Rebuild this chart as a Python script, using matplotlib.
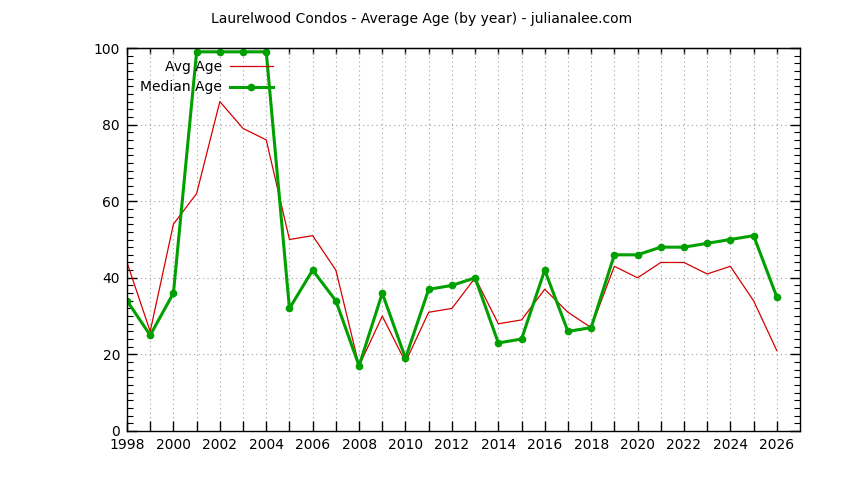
import matplotlib
matplotlib.use("Agg")
import matplotlib.pyplot as plt
from matplotlib.ticker import MultipleLocator

years = list(range(1998, 2027))
avg_age = [44, 26, 54, 62, 86, 79, 76, 50, 51, 42, 17, 30, 18, 31, 32, 40,
           28, 29, 37, 31, 27, 43, 40, 44, 44, 41, 43, 34, 21]
median_age = [34, 25, 36, 99, 99, 99, 99, 32, 42, 34, 17, 36, 19, 37, 38, 40,
              23, 24, 42, 26, 27, 46, 46, 48, 48, 49, 50, 51, 35]
title = "Laurelwood Condos - Average Age (by year) - julianalee.com"

plt.rcParams['font.family'] = ['DejaVu Sans']
fig = plt.figure(figsize=(8.44, 4.8), dpi=100)
ax = fig.add_axes([127 / 844, 1 - 431 / 480, (800 - 127) / 844, (431 - 48) / 480])

ax.plot(years, avg_age, color='#d40000', lw=0.9, label='Avg Age')
ax.plot(years, median_age, color='#00a000', lw=2.2, marker='o', ms=4.5,
        label='Median Age')

ax.set_xlim(1998, 2027)
ax.set_ylim(0, 100)
ax.set_xticks(years)
ax.set_xticklabels([str(y) if y % 2 == 0 else '' for y in years])
ax.yaxis.set_major_locator(MultipleLocator(20))
ax.yaxis.set_minor_locator(MultipleLocator(2))
ax.tick_params(which='both', direction='in', right=True, labelsize=10,
               color='black', pad=5)
ax.tick_params(which='major', length=7, width=1)
ax.tick_params(which='minor', length=4, width=0.8)
ax.tick_params(axis='x', which='minor', bottom=False)

# short mirrored ticks along the top border
top = ax.secondary_xaxis('top')
top.set_xticks(years)
top.tick_params(direction='in', length=4, width=1, labeltop=False)

for s in ax.spines.values():
    s.set_linewidth(1)
ax.grid(True, which='major', color='#a0a0a0', linestyle=(0, (1, 3)), lw=0.8)

ax.legend(loc='upper left', markerfirst=False, frameon=False, fontsize=10,
          handlelength=3.1, handletextpad=0.55, labelspacing=0.47,
          borderaxespad=0.1, bbox_to_anchor=(0.0095, 0.987))

fig.text(0.5, 1 - 19 / 480, title, ha='center', va='center', fontsize=10)

fig.savefig("out.png", dpi=100)
